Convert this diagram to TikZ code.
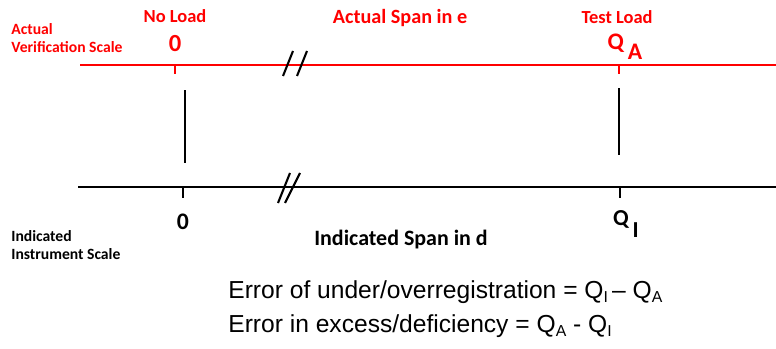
\documentclass[tikz,border=0pt]{standalone}
\usepackage{fontspec}
\setmainfont{Liberation Sans}
\newfontfamily\lblfont{Carlito}
\usetikzlibrary{positioning}

\begin{document}
\begin{tikzpicture}[x=0.02cm, y=-0.02cm,
  lbl/.style={font=\lblfont\bfseries, inner sep=0pt},
  redlbl/.style={lbl, text=red},
  scaleline/.style={line width=1.3pt},
  brk/.style={line width=1.2pt},
  eqn/.style={font=\fontsize{14}{16}\selectfont, anchor=west, inner sep=0pt}]
\useasboundingbox (0,0) rectangle (776,348);

% actual verification scale (red)
\coordinate (ra) at (80,65);
\coordinate (rb) at (776,65);
\draw[scaleline, red] (ra) -- (rb);
\coordinate (rzero) at (175,65);
\coordinate (rtest) at (619,65);
\draw[scaleline, red] (rzero) -- ++(0,9);
\draw[scaleline, red] (rtest) -- ++(0,9);
\draw[brk] (283,76) -- (293,51);
\draw[brk] (297,76) -- (307,51);

\node[redlbl, font=\lblfont\bfseries\fontsize{8.9}{10}\selectfont, anchor=west, align=left] (actual) at (11,38) {Actual\\Verification Scale};
\node[redlbl, font=\lblfont\bfseries\fontsize{10.5}{12}\selectfont] (noload) at (175,16) {No Load};
\node[redlbl, font=\lblfont\bfseries\fontsize{14}{16}\selectfont] (rzerolbl) at (175,44) {0};
\node[redlbl, font=\lblfont\bfseries\fontsize{11.5}{14}\selectfont] (espan) at (400,18) {Actual Span in e};
\node[redlbl, font=\lblfont\bfseries\fontsize{10.5}{12}\selectfont] (testload) at (617,17) {Test Load};
\node[redlbl, font=\lblfont\bfseries\fontsize{13.5}{16}\selectfont] (qa) at (625,47) {Q\,\raisebox{-0.9ex}{A}};

% indicated instrument scale (black)
\coordinate (ba) at (78,187);
\coordinate (bb) at (776,187);
\draw[scaleline] (ba) -- (bb);
\coordinate (bzero) at (183,187);
\coordinate (btest) at (620,187);
\draw[scaleline] (bzero) -- ++(0,11);
\draw[scaleline] (btest) -- ++(0,11);
\draw[brk] (278,203) -- (290,173);
\draw[brk] (285,203) -- (300,173);

% offsets between the two scales
\coordinate (ua) at (185,90);
\coordinate (ub) at (185,163);
\coordinate (va) at (619,88);
\coordinate (vb) at (619,155);
\draw[line width=1.2pt] (ua) -- (ub);
\draw[line width=1.2pt] (va) -- (vb);

\node[lbl, font=\lblfont\bfseries\fontsize{8.9}{10}\selectfont, anchor=west, align=left] (indicated) at (11,245) {Indicated\\Instrument Scale};
\node[lbl, font=\lblfont\bfseries\fontsize{13.5}{16}\selectfont] (bzerolbl) at (183,222) {0};
\node[lbl, font=\lblfont\bfseries\fontsize{12.5}{14}\selectfont] (dspan) at (401,240) {Indicated Span in d};
\node[lbl, font=\lblfont\bfseries\fontsize{13}{16}\selectfont] (qi) at (626,224) {Q\,\raisebox{-1.0ex}{I}};

% error relations
\node[eqn] (err1) at (228,292) {Error of under/overregistration = Q\raisebox{-0.3ex}{\fontsize{9}{9}\selectfont I}\,– Q\raisebox{-0.3ex}{\fontsize{9}{9}\selectfont A}};
\node[eqn] (err2) at (228,326) {Error in excess/deficiency = Q\raisebox{-0.3ex}{\fontsize{9}{9}\selectfont A} - Q\raisebox{-0.3ex}{\fontsize{9}{9}\selectfont I}};
\end{tikzpicture}
\end{document}
